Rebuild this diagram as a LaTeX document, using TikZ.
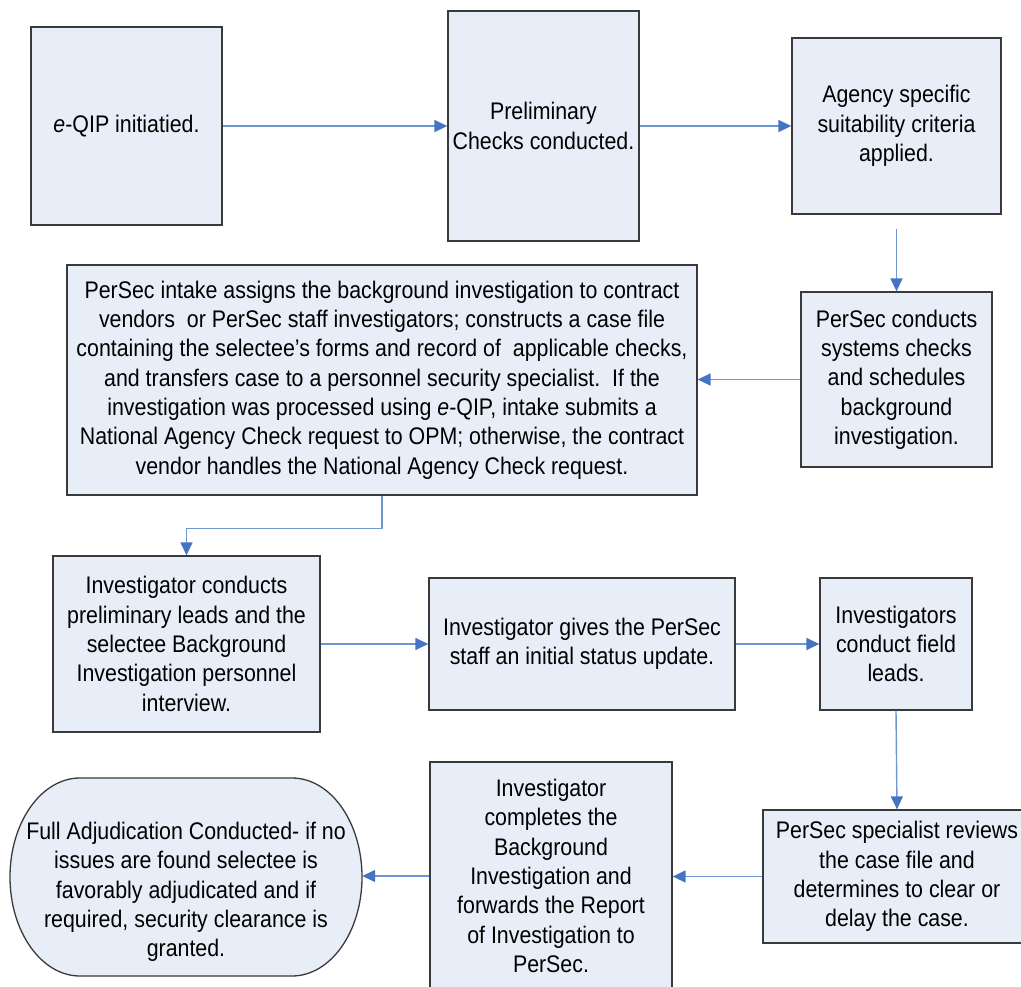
\documentclass[tikz,border=0pt]{standalone}
\usepackage{fontspec}
\setmainfont{Liberation Sans}[FakeStretch=0.89]
\usetikzlibrary{arrows.meta,calc}
\definecolor{boxfill}{HTML}{E8EEF8}
\definecolor{boxdraw}{HTML}{3A3A3A}
\definecolor{lineblue}{HTML}{6E96D2}
\definecolor{headblue}{HTML}{4674C4}
\tikzset{
  stepbox/.style={draw=boxdraw, fill=boxfill, line width=1.3pt, align=center,
    inner sep=0pt, font=\fontsize{24}{29.3}\selectfont},
  flow/.style={draw=lineblue, line width=1.4pt,
    -{Triangle[length=13pt,width=12pt,color=headblue]}},
}
\begin{document}
\begin{tikzpicture}[x=1pt,y=-1pt]
\useasboundingbox (0,0) rectangle (1021,987);
\clip (0,0) rectangle (1021,987);
\node[stepbox, minimum width=191pt, minimum height=198pt] (n1) at (126.5,126) {\textit{e}-QIP initiatied.};
\node[stepbox, minimum width=191pt, minimum height=230pt] (n2) at (543.5,126) {Preliminary\\Checks conducted.};
\node[stepbox, minimum width=209pt, minimum height=176pt] (n3) at (896.5,126) {Agency specific\\suitability criteria\\applied.};
\node[stepbox, minimum width=191pt, minimum height=175pt] (n4) at (896.5,379.5) {PerSec conducts\\systems checks\\and schedules\\background\\investigation.};
\node[stepbox, minimum width=630pt, minimum height=230pt] (n5) at (382,380) {PerSec intake assigns the background investigation to contract\\vendors\ \ or PerSec staff investigators; constructs a case file\\containing the selectee’s forms and record of\ \ applicable checks,\\and transfers case to a personnel security specialist.\ \ If the\\investigation was processed using \textit{e}-QIP, intake submits a\\National Agency Check request to OPM; otherwise, the contract\\vendor handles the National Agency Check request.};
\node[stepbox, minimum width=267pt, minimum height=176pt] (n6) at (186.5,644) {Investigator conducts\\preliminary leads and the\\selectee Background\\Investigation personnel\\interview.};
\node[stepbox, minimum width=306pt, minimum height=132pt] (n7) at (582,644) {Investigator gives the PerSec\\staff an initial status update.};
\node[stepbox, minimum width=152pt, minimum height=132pt] (n8) at (896,644) {Investigators\\conduct field\\leads.};
\node[stepbox, minimum width=268pt, minimum height=133pt] (n9) at (897,876.5) {PerSec specialist reviews\\the case file and\\determines to clear or\\delay the case.};
\node[stepbox, minimum width=242pt, minimum height=228pt] (n10) at (551,876) {Investigator\\completes the\\Background\\Investigation and\\forwards the Report\\of Investigation to\\PerSec.};
% terminal (stadium shape)
\draw[draw=boxdraw, fill=boxfill, line width=1.3pt]
  (80,778) -- (292,778) arc[start angle=-90, end angle=90, x radius=70, y radius=99]
  -- (80,976) arc[start angle=90, end angle=270, x radius=70, y radius=99] -- cycle;
\node[align=center, inner sep=0pt, font=\fontsize{24}{29.3}\selectfont,
  minimum width=352pt, minimum height=198pt] (n11) at (186,892)
  {Full Adjudication Conducted- if no\\issues are found selectee is\\favorably adjudicated and if\\required, security clearance is\\granted.};
% connectors
\coordinate (c34) at ($(n3.south)+(0,14)$);
\draw[flow] (n1.east) -- (n2.west);
\draw[flow] (n2.east) -- (n3.west);
\draw[flow] (c34) -- (n4.north);
\draw[flow] (n4.west) -- (n4.west -| n5.east);
\draw[flow] (n5.south) -- ++(0,33) -| (n6.north);
\draw[flow] (n6.east) -- (n7.west);
\draw[flow] (n7.east) -- (n8.west);
\draw[flow] (n8.south) -- (n9.north);
\draw[flow] (n9.west) -- (n9.west -| n10.east);
\draw[flow] (n10.west) -- (n10.west -| n11.east);
\end{tikzpicture}
\end{document}
